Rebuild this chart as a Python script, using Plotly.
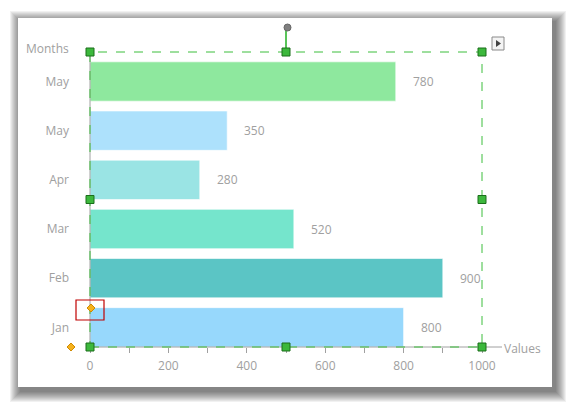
import plotly.graph_objects as go

# data, bottom to top as drawn
months = ["Jan", "Feb", "Mar", "Apr", "May", "May"]
values = [800, 900, 520, 280, 350, 780]
colors = ["#97D8FC", "#5BC5C5", "#75E5CC", "#9AE4E4", "#ADE1FC", "#8EE89E"]
x_ticks = [0, 200, 400, 600, 800, 1000]

W, H = 569, 406
L, R, T, B = 90, 482, 52, 347  # plot area in pixels
grey = "#A0A0A0"
green = "#3DBE3D"


def px(x):  # pixel -> paper x
    return (x - L) / (R - L)


def py(y):  # pixel -> paper y
    return (B - y) / (B - T)


pos = list(range(len(months)))

fig = go.Figure(go.Bar(
    x=values, y=pos, orientation="h", width=0.8,
    marker=dict(color=colors, line=dict(color="rgba(255,255,255,0.6)", width=1)),
    hoverinfo="x+y"))

shapes = []
# soft drop shadow (stacked translucent rects, offset down-right), then the white card
for g in range(11, 0, -1):
    shapes.append(dict(type="rect", xref="paper", yref="paper", layer="below",
                       x0=px(18 + 3 - g), x1=px(552 + 3 + g), y0=py(387 + 4 + g), y1=py(18 + 4 - g),
                       line_width=0, fillcolor="rgba(0,0,0,0.055)"))
shapes.append(dict(type="rect", xref="paper", yref="paper", layer="below",
                   x0=px(18), x1=px(552), y0=py(387), y1=py(18),
                   line_width=0, fillcolor="white"))

# axis lines
shapes.append(dict(type="line", xref="paper", yref="paper", x0=0, x1=px(502), y0=0, y1=0,
                   line=dict(color=grey, width=1)))
shapes.append(dict(type="line", xref="paper", yref="paper", x0=0, x1=0, y0=0, y1=1,
                   line=dict(color=grey, width=1)))

# selection frame
shapes.append(dict(type="rect", xref="paper", yref="paper", x0=0, x1=1, y0=0, y1=1,
                   line=dict(color=green, width=1, dash="dash")))
shapes.append(dict(type="line", xref="paper", yref="paper", x0=0.5, x1=0.5, y0=1, y1=py(28),
                   line=dict(color="#22B022", width=1.5)))
shapes.append(dict(type="circle", xref="paper", yref="paper",
                   x0=px(284), x1=px(291), y0=py(24), y1=py(31),
                   fillcolor="#808080", line=dict(color="#666666", width=1)))
for hx in [0, 0.5, 1]:
    for hy in [0, 0.5, 1]:
        if hx == 0.5 and hy == 0.5:
            continue
        shapes.append(dict(type="rect", xref="paper", yref="paper",
                           x0=hx - 4 / (R - L), x1=hx + 4 / (R - L),
                           y0=hy - 4 / (B - T), y1=hy + 4 / (B - T),
                           fillcolor="#3CB83C", line=dict(color="#1B6E1B", width=1)))

# orange diamonds and red box
for cx, cy in [(91, 308), (71, 347)]:
    shapes.append(dict(type="path", xref="paper", yref="paper",
                       path="M %f %f L %f %f L %f %f L %f %f Z" % (
                           px(cx - 4), py(cy), px(cx), py(cy - 4), px(cx + 4), py(cy), px(cx), py(cy + 4)),
                       fillcolor="#F5B21E", line=dict(color="#D08A00", width=1)))
shapes.append(dict(type="rect", xref="paper", yref="paper",
                   x0=px(76), x1=px(104), y0=py(320), y1=py(300),
                   line=dict(color="#C00000", width=1.2)))

# play button top right
shapes.append(dict(type="rect", xref="paper", yref="paper",
                   x0=px(492), x1=px(504), y0=py(50), y1=py(37),
                   fillcolor="#F4F4F4", line=dict(color="#8A8A8A", width=1)))
shapes.append(dict(type="path", xref="paper", yref="paper",
                   path="M %f %f L %f %f L %f %f Z" % (px(496), py(40), px(501), py(43.5), px(496), py(47)),
                   fillcolor="#444444", line_width=0))

annotations = []
for v, p in zip(values, pos):
    annotations.append(dict(x=v, y=p, xref="x", yref="y", text=str(v), showarrow=False,
                            xanchor="left", xshift=15, font=dict(size=12, color=grey)))
annotations.append(dict(x=px(24), y=py(48), xref="paper", yref="paper", text="Months",
                        showarrow=False, xanchor="left", yanchor="middle",
                        font=dict(size=12, color=grey)))
annotations.append(dict(x=px(502), y=py(349), xref="paper", yref="paper", text="Values",
                        showarrow=False, xanchor="left", yanchor="middle",
                        font=dict(size=12, color=grey)))

fig.update_layout(
    width=W, height=H,
    margin=dict(l=L, r=W - R, t=T, b=H - B),
    paper_bgcolor="white", plot_bgcolor="rgba(0,0,0,0)",
    font=dict(family="Open Sans", size=12, color=grey),
    showlegend=False, bargap=0.2,
    shapes=shapes, annotations=annotations,
    xaxis=dict(range=[0, 1000], tickvals=x_ticks, ticks="outside", ticklen=5,
               tickcolor=grey, showgrid=False, zeroline=False, showline=False,
               minor=dict(dtick=100, ticks="outside", ticklen=5, tickcolor=grey, showgrid=False),
               ticklabelstandoff=3, tickfont=dict(size=12, color=grey)),
    yaxis=dict(range=[-0.4, 5.6], tickvals=pos, ticktext=months, ticks="",
               showgrid=False, zeroline=False, showline=False,
               ticklabelstandoff=20, tickfont=dict(size=12, color=grey)),
)

# drop the default page margin so the figure sits at the window corner
fig.write_html("out.html", config={"displayModeBar": False},
               post_script="document.body.style.margin='0';")
